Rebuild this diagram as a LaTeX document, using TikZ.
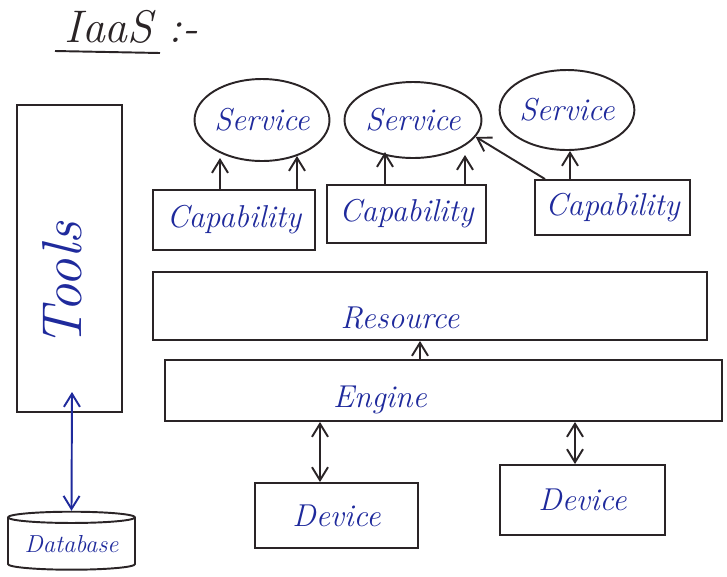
\documentclass[tikz,border=0pt]{standalone}
\usetikzlibrary{arrows.meta,shapes.geometric}
\definecolor{ink}{HTML}{1F2A9C}
\definecolor{pen}{HTML}{2A2426}
\begin{document}
\begin{tikzpicture}[x=0.02cm,y=-0.02cm,
  line width=1.1pt,
  every node/.style={text=ink},
  lbl/.style={font=\fontsize{18}{21}\selectfont\itshape},
  boxnode/.style={draw=pen, rectangle, inner sep=0pt, lbl},
  svcnode/.style={draw=pen, ellipse, inner sep=0pt, lbl},
  arr/.style={draw=pen, -{Straight Barb[length=2.6mm,width=3.2mm]}},
  darr/.style={draw=pen, {Straight Barb[length=2.6mm,width=3.2mm]}-{Straight Barb[length=2.6mm,width=3.2mm]}}
]
\useasboundingbox (0,0) rectangle (727,576);

% heading
\node[text=pen, font=\fontsize{26}{30}\selectfont\itshape, anchor=base west] (title) at (58,42) {IaaS :-};
\coordinate (ulA) at (55,51);
\coordinate (ulB) at (160,53);
\draw[pen] (ulA) -- (ulB);

% tools column and database
\node[boxnode, minimum width=2.1cm, minimum height=6.14cm] (tools) at (69.5,258.5) {};
\node[rotate=90, font=\fontsize{32}{36}\selectfont\itshape] (toolstxt) at (62,285) {Tools};
\node[cylinder, shape border rotate=90, aspect=0.12, draw=pen, inner sep=0pt,
      minimum width=2.54cm, minimum height=1.16cm, lbl,
      font=\fontsize{14}{16}\selectfont\itshape] (db) at (71.5,544) {Database};
\draw[darr, draw=ink] (72,392) -- (db.north);

% services
\node[svcnode, minimum width=2.7cm, minimum height=1.64cm] (s1) at (262,120) {Service};
\node[svcnode, minimum width=2.74cm, minimum height=1.52cm] (s2) at (413,120) {Service};
\node[svcnode, minimum width=2.18cm, minimum height=1.6cm] (s3) at (567,110) {Service};

% capabilities
\node[boxnode, minimum width=3.24cm, minimum height=1.2cm] (c1) at (234,220) {Capability};
\node[boxnode, minimum width=3.18cm, minimum height=1.16cm] (c2) at (406.5,214) {Capability};
\node[boxnode, minimum width=3.1cm, minimum height=1.1cm] (c3) at (612.5,207.5) {Capability};

\draw[arr] (c1.north -| 220,0) -- (220,158);
\draw[arr] (c1.north -| 297,0) -- (297,156);
\draw[arr] (c2.north -| 385,0) -- (385,152);
\draw[arr] (c2.north -| 465,0) -- (465,155);
\draw[arr] (c3.north -| 570,0) -- (s3.south -| 570,0);
\draw[arr] (c3.north -| 545,0) -- (s2.-15);

% resource and engine layers
\node[boxnode, minimum width=11.08cm, minimum height=1.36cm] (res) at (430,306) {};
\node[lbl] (restxt) at (400,318) {Resource};
\node[boxnode, minimum width=11.14cm, minimum height=1.22cm] (eng) at (443.5,390.5) {};
\node[lbl] (engtxt) at (380,400) {Engine};
\draw[arr] (eng.north -| 420,0) -- (res.south -| 420,0);

% devices
\node[boxnode, minimum width=3.26cm, minimum height=1.3cm] (d1) at (336.5,515.5) {Device};
\node[boxnode, minimum width=3.3cm, minimum height=1.4cm] (d2) at (582.5,500) {Device};
\draw[darr] (eng.south -| 320,0) -- (d1.north -| 320,0);
\draw[darr] (eng.south -| 575,0) -- (d2.north -| 575,0);
\end{tikzpicture}
\end{document}
